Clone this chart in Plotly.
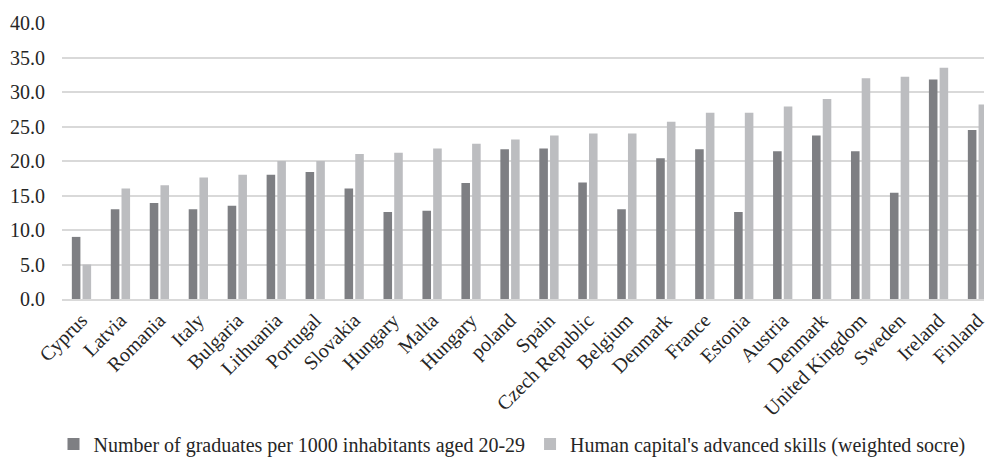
import plotly.graph_objects as go

countries = ["Cyprus", "Latvia", "Romania", "Italy", "Bulgaria", "Lithuania",
             "Portugal", "Slovakia", "Hungary", "Malta", "Hungary", "poland",
             "Spain", "Czech Republic", "Belgium", "Denmark", "France", "Estonia",
             "Austria", "Denmark", "United Kingdom", "Sweden", "Ireland", "Finland"]

graduates = [9.0, 13.0, 13.9, 13.0, 13.5, 18.0, 18.4, 16.0, 12.6, 12.8, 16.8, 21.7,
             21.8, 16.9, 13.0, 20.4, 21.7, 12.6, 21.4, 23.7, 21.4, 15.4, 31.8, 24.5]

skills = [5.0, 16.0, 16.5, 17.6, 18.0, 20.0, 20.0, 21.0, 21.2, 21.8, 22.5, 23.1,
          23.7, 24.0, 24.0, 25.7, 27.0, 27.0, 27.9, 29.0, 32.0, 32.2, 33.5, 28.2]

y_ticks = [0, 5, 10, 15, 20, 25, 30, 35, 40]
y_tick_labels = [f"{v:.1f}" for v in y_ticks]

series_names = ["Number of graduates per 1000 inhabitants aged 20-29",
                "Human capital's advanced skills (weighted socre)"]

# country names repeat, so bars sit on integer positions labelled by tick text
pos = list(range(len(countries)))

fig = go.Figure()
fig.add_trace(go.Bar(x=pos, y=graduates, name=series_names[0],
                     marker=dict(color="#7e7f83", line=dict(width=0))))
fig.add_trace(go.Bar(x=pos, y=skills, name=series_names[1],
                     marker=dict(color="#bcbdc0", line=dict(width=0))))

font_family = "Liberation Serif"
text_color = "#262626"

fig.update_layout(
    width=987, height=470,
    margin=dict(l=62, r=0, t=23, b=171),
    plot_bgcolor="white", paper_bgcolor="white",
    barmode="group", bargap=0.45, bargroupgap=0.2,
    font=dict(family=font_family, color=text_color, size=20),
    showlegend=True,
    legend=dict(orientation="h", xref="container", x=512 / 987, xanchor="center",
                yref="container", y=26 / 470, yanchor="middle",
                font=dict(size=20, family=font_family, color=text_color),
                itemwidth=30, traceorder="normal"),
    xaxis=dict(range=[-0.5, 23.167], tickmode="array", tickvals=pos,
               ticktext=countries, tickangle=-45, showgrid=False,
               showline=True, linecolor="#d9d9d9", linewidth=1.5, ticks="",
               ticklabeloverflow="allow",
               tickfont=dict(size=20, family=font_family, color=text_color),
               zeroline=False),
    yaxis=dict(range=[0, 40], tickmode="array", tickvals=y_ticks,
               ticktext=y_tick_labels, showgrid=True, gridcolor="#d9d9d9",
               gridwidth=1.5, zeroline=False, showline=False, ticks="",
               ticklabelstandoff=16,
               tickfont=dict(size=20, family=font_family, color=text_color)),
)

fig.write_html("out.html")
